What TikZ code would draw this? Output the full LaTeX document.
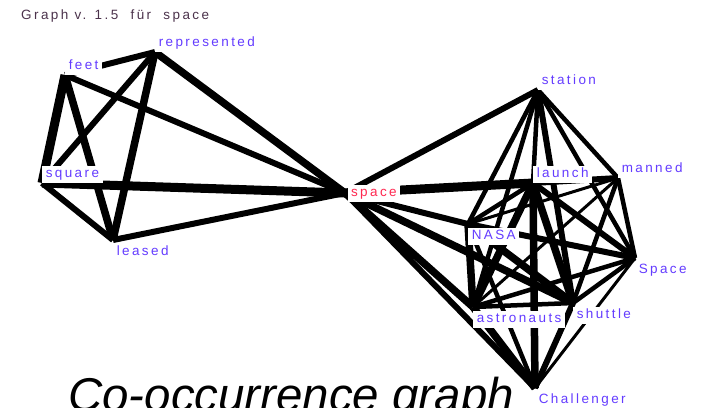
\documentclass[tikz,border=0pt]{standalone}
\usepackage{fontspec}
\setmainfont{Liberation Sans}
\newfontfamily\wordfont[LetterSpace=18]{Liberation Sans}
\usepackage{tikz}
\usetikzlibrary{calc}

\definecolor{wordblue}{RGB}{100,60,255}
\definecolor{wordred}{RGB}{255,40,80}
\definecolor{headgray}{RGB}{75,50,75}

\begin{document}
\begin{tikzpicture}[x=0.03cm,y=-0.03cm,
    word/.style={fill=white,text=wordblue,font=\wordfont\fontsize{11.5}{12}\selectfont,
                 inner xsep=3pt,inner ysep=2pt,text height=8pt,text depth=2.5pt},
    wordup/.style={word,anchor=south west},
    worddown/.style={word,anchor=north west,yshift=-3pt}]
    \useasboundingbox (0,0) rectangle (702,407);
    % Coordinates (pixels, y downwards)
    \coordinate (feet) at (65,75);
    \coordinate (represented) at (155,52);
    \coordinate (square) at (42,183);
    \coordinate (leased) at (113,240);
    \coordinate (space) at (345,193);
    \coordinate (station) at (538,90);
    \coordinate (launch) at (533,183);
    \coordinate (manned) at (618,178);
    \coordinate (NASA) at (468,224);
    \coordinate (Space) at (635,258);
    \coordinate (shuttle) at (573,303);
    \coordinate (astronauts) at (473,307);
    \coordinate (Challenger) at (535,388);
    % Edges, width in pixels
    \foreach \a/\b/\w in {feet/square/6, feet/leased/5, feet/represented/4, feet/space/4,
        represented/square/4, represented/leased/5, represented/space/5,
        square/leased/4, square/space/6, leased/space/4} {
            \draw[line width=\w*0.045cm] (\a)--(\b);
        }
    \foreach \a/\b/\w in {space/station/4, space/launch/6, space/NASA/4, space/shuttle/5,
        space/astronauts/5, space/Challenger/4,
        station/NASA/3, station/astronauts/3, station/launch/3, station/shuttle/4,
        station/Space/3, station/manned/3,
        launch/manned/4, launch/NASA/3, launch/astronauts/5, launch/shuttle/5,
        launch/Space/4, launch/Challenger/5,
        manned/NASA/2, manned/Space/3, manned/shuttle/3, manned/astronauts/2,
        NASA/Space/4, NASA/shuttle/5, NASA/astronauts/5, NASA/Challenger/3,
        Space/shuttle/3, Space/astronauts/3, Space/Challenger/2,
        shuttle/astronauts/3, shuttle/Challenger/4, astronauts/Challenger/5} {
            \draw[line width=\w*0.045cm] (\a)--(\b);
        }
    % Word labels
    \node[wordup] (Lfeet) at (feet) {feet};
    \node[wordup] (Lrepresented) at (represented) {represented};
    \node[wordup] (Lsquare) at (square) {square};
    \node[worddown] (Lleased) at (leased) {leased};
    \node[word,anchor=west,xshift=2pt,text=wordred] (Lspace) at (space) {space};
    \node[wordup] (Lstation) at (station) {station};
    \node[wordup] (Llaunch) at (launch) {launch};
    \node[wordup] (Lmanned) at (manned) {manned};
    \node[worddown] (LNASA) at (NASA) {NASA};
    \node[worddown] (LSpace) at (Space) {Space};
    \node[worddown] (Lshuttle) at (shuttle) {shuttle};
    \node[worddown] (Lastronauts) at (astronauts) {astronauts};
    \node[worddown] (LChallenger) at (Challenger) {Challenger};
    % Headings
    \node[anchor=west,inner sep=0,text=headgray,font=\wordfont\fontsize{11.5}{12}\selectfont]
        (head) at (21,16) {Graph v. 1.5 \ für \ space};
    \node[anchor=base west,inner sep=0,font=\itshape\fontsize{40.5}{44}\selectfont]
        (caption) at (68,411) {Co-occurrence graph};
\end{tikzpicture}
\end{document}
